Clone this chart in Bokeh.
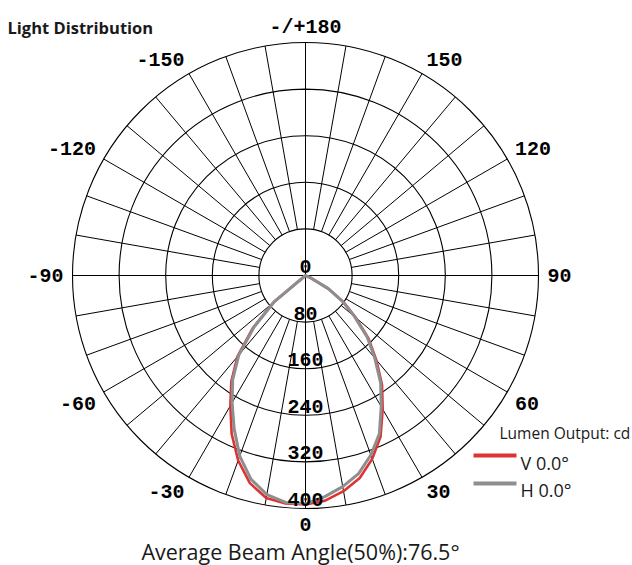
import numpy as np
from bokeh.plotting import figure
from bokeh.models import Range1d
from bokeh.embed import file_html
from bokeh.resources import INLINE
from bokeh.core.properties import value

# ---------------- data ----------------
angles = list(range(-90, 95, 5))
v_values = [0, 0, 0, 0, 0, 0, 0, 0,
            72, 128, 182, 222, 258, 300, 338, 369, 388, 393,
            393,
            388, 376, 360, 335, 305, 265, 229, 189, 153, 113, 80, 46, 10,
            0, 0, 0, 0, 0]
h_values = [0, 0, 0, 0, 0, 0, 0, 0,
            70, 125, 178, 218, 252, 290, 330, 362, 382, 391,
            392,
            381, 368, 352, 328, 300, 260, 225, 185, 150, 110, 78, 45, 10,
            0, 0, 0, 0, 0]
ring_values = [0, 80, 160, 240, 320, 400]
ring_labels = ["0", "80", "160", "240", "320", "400"]
angle_ticks = [0, 30, 60, 90, 120, 150, 180, -150, -120, -90, -60, -30]
angle_labels = ["0", "30", "60", "90", "120", "150", "-/+180",
                "-150", "-120", "-90", "-60", "-30"]
spoke_angles = list(range(0, 360, 10))
series_names = ["V 0.0°", "H 0.0°"]
title_text = "Light Distribution"
unit_text = "Lumen Output: cd"
beam_text = "Average Beam Angle(50%):76.5°"

# ---------------- layout ----------------
W, H = 632, 565
K = 233.0 / 400.0          # px per cd
CX, CY = 305, 275          # polar center in page px
def dx(px):
    return (px - CX) / K
def dy(py):
    return (CY - py) / K

R_MAX = ring_values[-1]
R_IN = ring_values[1]
GAP = 9 / K
HALF_H = 6.5 / K

p = figure(width=W, height=H, output_backend="svg", toolbar_location=None,
           x_range=Range1d(-CX / K, (W - CX) / K),
           y_range=Range1d(-(H - CY) / K, CY / K),
           x_axis_type=None, y_axis_type=None, min_border=0)
p.grid.visible = False
p.outline_line_color = None
p.background_fill_color = "white"
p.border_fill_color = "white"

# rings
p.circle(x=[0] * (len(ring_values) - 1), y=[0] * (len(ring_values) - 1),
         radius=ring_values[1:], fill_color=None, line_color="black",
         line_width=1.1)

# spokes
xs, ys = [], []
for a in spoke_angles:
    t = np.radians(a)
    r0 = 0 if a % 90 == 0 else R_IN
    xs.append([r0 * np.sin(t), R_MAX * np.sin(t)])
    ys.append([-r0 * np.cos(t), -R_MAX * np.cos(t)])
p.multi_line(xs=xs, ys=ys, line_color="black", line_width=1)

# curves
th = np.radians(np.array(angles, dtype=float))
for vals, color, lw in [(v_values, "#dd3333", 2.6), (h_values, "#8e8e8e", 3.0)]:
    v = np.array(vals, dtype=float)
    p.line(x=v * np.sin(th), y=-v * np.cos(th), line_color=color,
           line_width=lw, line_join="round", line_cap="round")

mono = value("Liberation Mono")
# angle labels, anchored just outside the outer ring
groups = {"left": ([], [], []), "right": ([], [], []), "center": ([], [], [])}
for a, lab in zip(angle_ticks, angle_labels):
    t = np.radians(a)
    s, c = np.sin(t), -np.cos(t)
    ax = (R_MAX + GAP) * s
    ay = (R_MAX + GAP) * c
    if c > 0.01:
        ay += HALF_H
    elif c < -0.01:
        ay -= HALF_H
    align = "left" if s > 0.01 else ("right" if s < -0.01 else "center")
    groups[align][0].append(ax)
    groups[align][1].append(ay)
    groups[align][2].append(lab)
for align, (gx, gy, gt) in groups.items():
    p.text(x=gx, y=gy, text=gt, text_font=mono, text_font_style="bold",
           text_font_size=value("20px"), text_color="black",
           text_align=align, text_baseline="middle")

# ring labels
rv = np.array(ring_values, dtype=float)
p.text(x=np.zeros(len(rv)), y=-rv + 9 / K, text=ring_labels,
       text_font=mono, text_font_style="bold", text_font_size=value("20px"),
       text_color="black", text_align="center", text_baseline="middle")

sans = value("Open Sans")
# title
p.text(x=[dx(7)], y=[dy(27)], text=[title_text], text_font=sans,
       text_font_style="bold", text_font_size=value("16.5px"),
       text_color="#1a1a1a", text_align="left", text_baseline="alphabetic")

# bottom beam text
p.text(x=[dx(300)], y=[dy(551)], text=[beam_text], text_font=sans,
       text_font_size=value("21.5px"), text_color="#1a1a1a",
       text_align="center", text_baseline="alphabetic")

# legend
p.text(x=[dx(499)], y=[dy(432)], text=[unit_text], text_font=sans,
       text_font_size=value("15.5px"), text_color="#1a1a1a",
       text_align="left", text_baseline="alphabetic")
for name, color, ly, ty in [(series_names[0], "#dd3333", 455, 462),
                            (series_names[1], "#8e8e8e", 483, 489)]:
    p.line(x=[dx(473), dx(516)], y=[dy(ly), dy(ly)], line_color=color,
           line_width=4)
    p.text(x=[dx(520)], y=[dy(ty)], text=[name], text_font=sans,
           text_font_size=value("18px"), text_color="#1a1a1a",
           text_align="left", text_baseline="alphabetic")

open("out.html", "w").write(file_html(p, INLINE))
